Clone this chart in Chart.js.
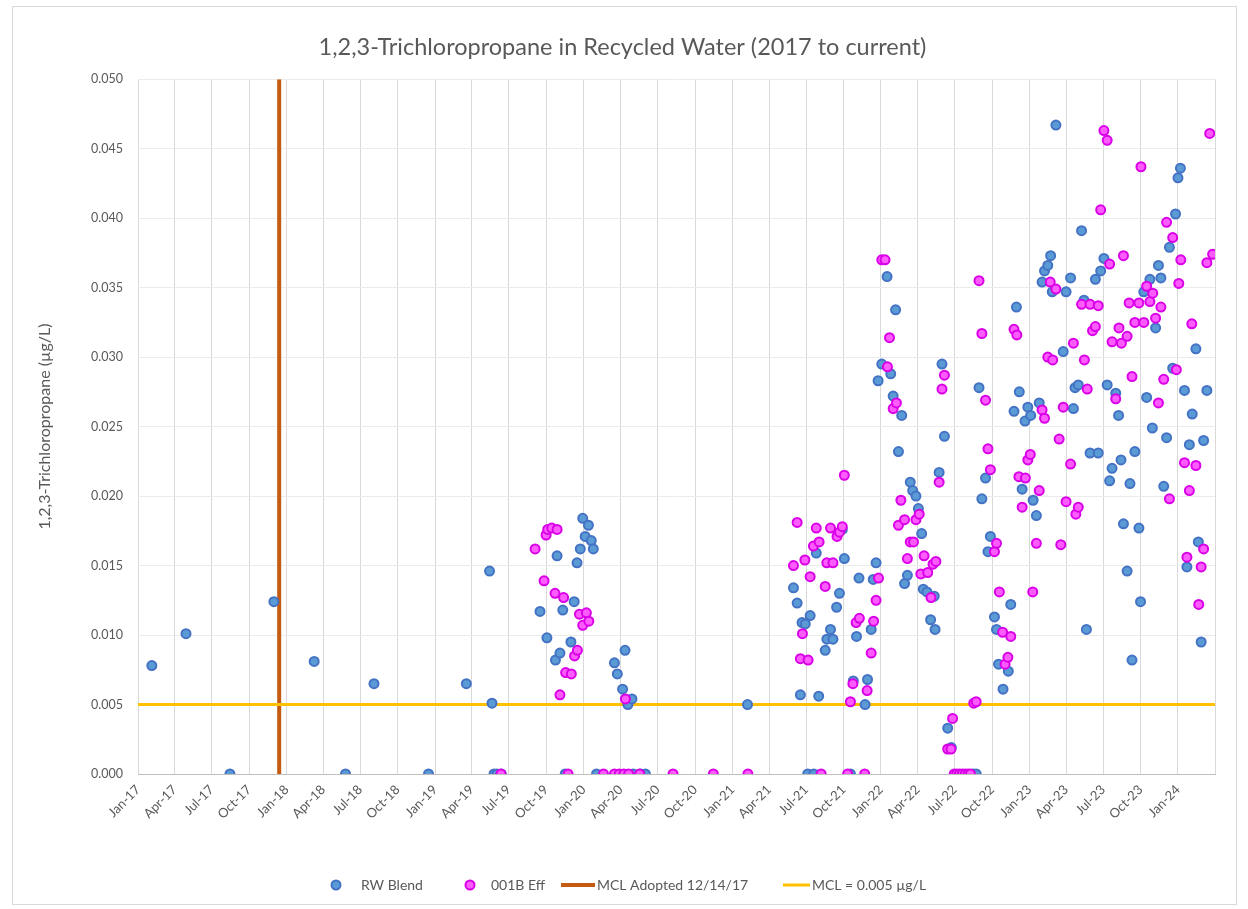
<!DOCTYPE html>
<html><head><meta charset="utf-8">
<script src="https://cdn.jsdelivr.net/npm/chart.js@4.4.1/dist/chart.umd.min.js"></script>
<style>html,body{margin:0;padding:0;background:#fff}#wrap{position:relative;width:1248px;height:909px}</style>
</head><body><div id="wrap"><canvas id="c" width="1248" height="909"></canvas></div>
<script>
const chartTitle = '1,2,3-Trichloropropane in Recycled Water (2017 to current)';
const yAxisTitle = '1,2,3-Trichloropropane (µg/L)';
const seriesNames = ['RW Blend', '001B Eff', 'MCL Adopted 12/14/17', 'MCL = 0.005 µg/L'];

const rwBlendDates = ['2017-02-04','2017-04-29','2017-08-15','2017-12-01','2018-03-10','2018-05-26','2018-08-04','2018-12-16','2019-03-19','2019-05-15','2019-05-21','2019-05-26','2019-06-02','2019-06-13','2019-09-16','2019-10-03','2019-10-24','2019-10-28','2019-11-04','2019-11-11','2019-11-17','2019-12-01','2019-12-09','2019-12-16','2019-12-24','2019-12-30','2020-01-05','2020-01-13','2020-01-20','2020-01-25','2020-02-02','2020-03-17','2020-03-24','2020-04-06','2020-04-12','2020-04-19','2020-04-29','2020-05-02','2020-05-20','2020-06-01','2021-02-07','2021-05-31','2021-06-09','2021-06-17','2021-06-21','2021-06-29','2021-07-05','2021-07-11','2021-07-20','2021-07-26','2021-08-01','2021-08-17','2021-08-21','2021-08-30','2021-09-05','2021-09-14','2021-09-21','2021-09-28','2021-10-03','2021-10-18','2021-10-25','2021-11-02','2021-11-08','2021-11-23','2021-11-29','2021-12-08','2021-12-13','2021-12-20','2021-12-25','2022-01-03','2022-01-16','2022-01-25','2022-01-31','2022-02-06','2022-02-13','2022-02-21','2022-02-28','2022-03-07','2022-03-14','2022-03-20','2022-03-28','2022-04-03','2022-04-11','2022-04-15','2022-04-24','2022-05-03','2022-05-12','2022-05-14','2022-05-24','2022-05-31','2022-06-06','2022-06-14','2022-06-23','2022-08-16','2022-08-23','2022-08-30','2022-09-06','2022-09-15','2022-09-21','2022-09-27','2022-10-07','2022-10-12','2022-10-17','2022-10-28','2022-11-10','2022-11-16','2022-11-24','2022-11-30','2022-12-07','2022-12-14','2022-12-21','2022-12-28','2023-01-04','2023-01-10','2023-01-18','2023-01-25','2023-02-01','2023-02-07','2023-02-15','2023-02-22','2023-02-26','2023-03-07','2023-03-25','2023-04-01','2023-04-12','2023-04-19','2023-04-23','2023-05-01','2023-05-09','2023-05-15','2023-05-21','2023-05-30','2023-06-12','2023-06-19','2023-06-25','2023-07-03','2023-07-11','2023-07-17','2023-07-23','2023-08-01','2023-08-08','2023-08-14','2023-08-20','2023-08-29','2023-09-05','2023-09-10','2023-09-17','2023-09-27','2023-10-01','2023-10-09','2023-10-16','2023-10-24','2023-10-30','2023-11-07','2023-11-14','2023-11-20','2023-11-27','2023-12-04','2023-12-11','2023-12-19','2023-12-26','2024-01-01','2024-01-07','2024-01-17','2024-01-23','2024-01-29','2024-02-05','2024-02-14','2024-02-20','2024-02-27','2024-03-04','2024-03-12'];
const rwBlendValues = [0.0078,0.0101,0,0.0124,0.0081,0,0.0065,0,0.0065,0.0146,0.0051,0,0,0,0.0117,0.0098,0.0082,0.0157,0.0087,0.0118,0,0.0095,0.0124,0.0152,0.0162,0.0184,0.0171,0.0179,0.0168,0.0162,0,0.0080,0.0072,0.0061,0.0089,0.0050,0.0054,0,0,0,0.0050,0.0134,0.0123,0.0057,0.0109,0.0108,0,0.0114,0,0.0159,0.0056,0.0089,0.0097,0.0104,0.0097,0.0120,0.0130,0.0176,0.0155,0,0.0067,0.0099,0.0141,0.0050,0.0068,0.0104,0.0140,0.0152,0.0283,0.0295,0.0358,0.0288,0.0272,0.0334,0.0232,0.0258,0.0137,0.0143,0.0210,0.0204,0.0200,0.0191,0.0173,0.0133,0.0131,0.0111,0.0128,0.0104,0.0217,0.0295,0.0243,0.0033,0.0019,0,0,0.0278,0.0198,0.0213,0.0160,0.0171,0.0113,0.0104,0.0079,0.0061,0.0074,0.0122,0.0261,0.0336,0.0275,0.0205,0.0254,0.0264,0.0258,0.0197,0.0186,0.0267,0.0354,0.0362,0.0366,0.0373,0.0347,0.0467,0.0304,0.0347,0.0357,0.0263,0.0278,0.0280,0.0391,0.0341,0.0104,0.0231,0.0356,0.0231,0.0362,0.0371,0.0280,0.0211,0.0220,0.0274,0.0258,0.0226,0.0180,0.0146,0.0209,0.0082,0.0232,0.0177,0.0124,0.0347,0.0271,0.0356,0.0249,0.0321,0.0366,0.0357,0.0207,0.0242,0.0379,0.0292,0.0403,0.0429,0.0436,0.0276,0.0149,0.0237,0.0259,0.0306,0.0167,0.0095,0.0240,0.0276];

const effDates = ['2019-06-12','2019-09-04','2019-09-26','2019-10-01','2019-10-05','2019-10-15','2019-10-23','2019-10-28','2019-11-04','2019-11-13','2019-11-18','2019-11-24','2019-12-02','2019-12-10','2019-12-17','2019-12-22','2019-12-30','2020-01-08','2020-01-14','2020-02-19','2020-03-17','2020-03-29','2020-04-09','2020-04-13','2020-04-21','2020-05-18','2020-08-08','2020-11-15','2021-02-08','2021-05-31','2021-06-09','2021-06-17','2021-06-22','2021-06-28','2021-07-06','2021-07-11','2021-07-19','2021-07-26','2021-08-02','2021-08-07','2021-08-17','2021-08-21','2021-08-30','2021-09-05','2021-09-15','2021-09-21','2021-09-28','2021-10-03','2021-10-11','2021-10-18','2021-10-24','2021-11-01','2021-11-09','2021-11-22','2021-11-28','2021-12-08','2021-12-14','2021-12-20','2021-12-26','2022-01-03','2022-01-11','2022-01-17','2022-01-22','2022-01-31','2022-02-08','2022-02-13','2022-02-19','2022-02-28','2022-03-07','2022-03-14','2022-03-22','2022-03-28','2022-04-05','2022-04-09','2022-04-17','2022-04-26','2022-05-04','2022-05-09','2022-05-16','2022-05-24','2022-05-31','2022-06-06','2022-06-14','2022-06-22','2022-06-26','2022-06-30','2022-07-06','2022-07-13','2022-07-20','2022-07-27','2022-08-03','2022-08-09','2022-08-17','2022-08-23','2022-08-30','2022-09-06','2022-09-15','2022-09-21','2022-09-27','2022-10-07','2022-10-12','2022-10-19','2022-10-27','2022-11-02','2022-11-09','2022-11-16','2022-11-24','2022-12-01','2022-12-06','2022-12-14','2022-12-22','2022-12-28','2023-01-03','2023-01-09','2023-01-18','2023-01-25','2023-02-01','2023-02-07','2023-02-15','2023-02-21','2023-02-27','2023-03-07','2023-03-15','2023-03-19','2023-03-25','2023-04-01','2023-04-12','2023-04-19','2023-04-25','2023-05-01','2023-05-09','2023-05-16','2023-05-23','2023-05-30','2023-06-05','2023-06-12','2023-06-19','2023-06-25','2023-07-03','2023-07-11','2023-07-17','2023-07-23','2023-08-01','2023-08-09','2023-08-15','2023-08-20','2023-08-29','2023-09-03','2023-09-10','2023-09-17','2023-09-27','2023-10-02','2023-10-09','2023-10-16','2023-10-24','2023-10-31','2023-11-07','2023-11-14','2023-11-20','2023-11-27','2023-12-04','2023-12-11','2023-12-19','2023-12-28','2024-01-03','2024-01-08','2024-01-17','2024-01-23','2024-01-29','2024-02-04','2024-02-14','2024-02-21','2024-02-27','2024-03-04','2024-03-12','2024-03-19','2024-03-26'];
const effValues = [0,0.0162,0.0139,0.0172,0.0176,0.0177,0.0130,0.0176,0.0057,0.0127,0.0073,0,0.0072,0.0085,0.0089,0.0115,0.0107,0.0116,0.0110,0,0,0,0,0.0054,0,0,0,0,0,0.0150,0.0181,0.0083,0.0101,0.0154,0.0082,0.0142,0.0164,0.0177,0.0167,0,0.0135,0.0152,0.0177,0.0152,0.0171,0.0174,0.0178,0.0215,0,0.0052,0.0065,0.0109,0.0112,0,0.0060,0.0087,0.0110,0.0125,0.0141,0.0370,0.0370,0.0293,0.0314,0.0263,0.0267,0.0179,0.0197,0.0183,0.0155,0.0167,0.0167,0.0183,0.0187,0.0144,0.0157,0.0145,0.0127,0.0151,0.0153,0.0210,0.0277,0.0287,0.0018,0.0018,0.0040,0,0,0,0,0,0,0,0.0051,0.0052,0.0355,0.0317,0.0269,0.0234,0.0219,0.0160,0.0166,0.0131,0.0102,0.0079,0.0084,0.0099,0.0320,0.0316,0.0214,0.0192,0.0213,0.0226,0.0230,0.0131,0.0166,0.0204,0.0262,0.0256,0.0300,0.0354,0.0298,0.0349,0.0241,0.0165,0.0264,0.0196,0.0223,0.0310,0.0187,0.0192,0.0338,0.0298,0.0277,0.0338,0.0319,0.0322,0.0337,0.0406,0.0463,0.0456,0.0367,0.0311,0.0270,0.0321,0.0310,0.0373,0.0315,0.0339,0.0286,0.0325,0.0339,0.0437,0.0325,0.0351,0.0340,0.0346,0.0328,0.0267,0.0336,0.0284,0.0397,0.0198,0.0386,0.0291,0.0353,0.0370,0.0224,0.0156,0.0204,0.0324,0.0222,0.0122,0.0149,0.0162,0.0368,0.0461,0.0374];

const mclAdoptedDate = '2017-12-14';
const mclLimit = 0.005;
const axisStartDate = '2017-01-01';
const axisEndDate = '2024-04-01';
const tickDates = ['2017-01-01','2017-04-01','2017-07-01','2017-10-01','2018-01-01','2018-04-01','2018-07-01','2018-10-01','2019-01-01','2019-04-01','2019-07-01','2019-10-01','2020-01-01','2020-04-01','2020-07-01','2020-10-01','2021-01-01','2021-04-01','2021-07-01','2021-10-01','2022-01-01','2022-04-01','2022-07-01','2022-10-01','2023-01-01','2023-04-01','2023-07-01','2023-10-01','2024-01-01'];
const tickLabels = ['Jan-17','Apr-17','Jul-17','Oct-17','Jan-18','Apr-18','Jul-18','Oct-18','Jan-19','Apr-19','Jul-19','Oct-19','Jan-20','Apr-20','Jul-20','Oct-20','Jan-21','Apr-21','Jul-21','Oct-21','Jan-22','Apr-22','Jul-22','Oct-22','Jan-23','Apr-23','Jul-23','Oct-23','Jan-24'];
const yMin = 0, yMax = 0.05, yStep = 0.005;

function dayNum(s) {
  const p = s.split('-').map(Number);
  return (Date.UTC(p[0], p[1] - 1, p[2]) - Date.UTC(2017, 0, 1)) / 86400000;
}
const xMin = dayNum(axisStartDate), xMax = dayNum(axisEndDate);
const tickDays = tickDates.map(dayNum);
const labelByDay = {};
tickDays.forEach((d, i) => { labelByDay[d] = tickLabels[i]; });

const rwPoints = rwBlendDates.map((d, i) => ({x: dayNum(d), y: rwBlendValues[i]}));
const effPoints = effDates.map((d, i) => ({x: dayNum(d), y: effValues[i]}));
const mclAdoptedLine = [{x: dayNum(mclAdoptedDate), y: yMin}, {x: dayNum(mclAdoptedDate), y: yMax}];
const mclLine = [{x: xMin, y: mclLimit}, {x: xMax, y: mclLimit}];

const FONT = 'Lato, "Open Sans", sans-serif';
const TXT = '#595959';

// legend layout (symbol start x, text start x) per item
const legendSymX = [326, 460, 561, 783];
const legendSymW = [20, 20, 34, 27];
const legendTextX = [361, 491, 597, 812];

const legendPlugin = {
  id: 'customLegend',
  afterDraw(chart) {
    const ctx = chart.ctx;
    const ds = chart.data.datasets;
    ctx.save();
    ctx.font = '14px ' + FONT;
    const y = 885;
    ds.forEach((d, i) => {
      const x = legendSymX[i], w = legendSymW[i];
      if (d.type === 'line') {
        ctx.strokeStyle = d.borderColor;
        ctx.lineWidth = d.borderWidth;
        ctx.beginPath(); ctx.moveTo(x, y); ctx.lineTo(x + w, y); ctx.stroke();
      } else {
        ctx.beginPath(); ctx.arc(x + w / 2, y, d.pointRadius, 0, Math.PI * 2);
        ctx.fillStyle = d.backgroundColor; ctx.fill();
        ctx.strokeStyle = d.borderColor; ctx.lineWidth = d.borderWidth; ctx.stroke();
      }
      ctx.fillStyle = TXT; ctx.textAlign = 'left'; ctx.textBaseline = 'middle';
      ctx.fillText(d.label, legendTextX[i], y);
    });
    ctx.strokeStyle = '#D9D9D9'; ctx.lineWidth = 1;
    ctx.strokeRect(12.5, 6.5, 1224, 898);
    ctx.restore();
  }
};

new Chart(document.getElementById('c'), {
  data: {
    datasets: [
      {type: 'scatter', label: seriesNames[0], data: rwPoints, backgroundColor: '#5B9BD5', borderColor: '#4472C4', borderWidth: 2, pointRadius: 4.5, pointHoverRadius: 4.5, order: 1},
      {type: 'scatter', label: seriesNames[1], data: effPoints, backgroundColor: '#FF5CFF', borderColor: '#D900E8', borderWidth: 2, pointRadius: 4.5, pointHoverRadius: 4.5, order: 0},
      {type: 'line', label: seriesNames[2], data: mclAdoptedLine, borderColor: '#C55A11', borderWidth: 4, pointRadius: 0, fill: false, order: 3},
      {type: 'line', label: seriesNames[3], data: mclLine, borderColor: '#FFC000', borderWidth: 3, pointRadius: 0, fill: false, order: 2}
    ]
  },
  options: {
    responsive: false,
    devicePixelRatio: 1,
    animation: false,
    layout: {padding: {left: 30, right: 33, top: 0, bottom: 0}},
    plugins: {
      legend: {display: false},
      tooltip: {enabled: false},
      title: {display: true, text: chartTitle, color: TXT, font: {family: FONT, size: 23.5, weight: 'normal'}, padding: {top: 33, bottom: 18}}
    },
    scales: {
      x: {
        type: 'linear', position: 'bottom', min: xMin, max: xMax,
        afterBuildTicks(scale) { scale.ticks = tickDays.concat([xMax]).map(v => ({value: v})); },
        afterFit(scale) { scale.height = 135; },
        ticks: {autoSkip: false, maxRotation: 45, minRotation: 45, padding: 8, color: TXT, font: {family: FONT, size: 13},
          callback: v => labelByDay[v] || ''},
        grid: {color: '#D9D9D9', lineWidth: 1, drawTicks: false},
        border: {display: true, color: '#BFBFBF', width: 1}
      },
      y: {
        min: yMin, max: yMax,
        afterFit(scale) { scale.width = 108; },
        ticks: {stepSize: yStep, padding: 15, color: TXT, font: {family: FONT, size: 12.5}, callback: v => Number(v).toFixed(3)},
        grid: {color: '#EBEBEB', lineWidth: 1, drawTicks: false},
        border: {display: false},
        title: {display: true, text: yAxisTitle, color: TXT, font: {family: FONT, size: 16}, padding: {top: 5, bottom: 0}}
      }
    }
  },
  plugins: [legendPlugin]
});
</script></body></html>
